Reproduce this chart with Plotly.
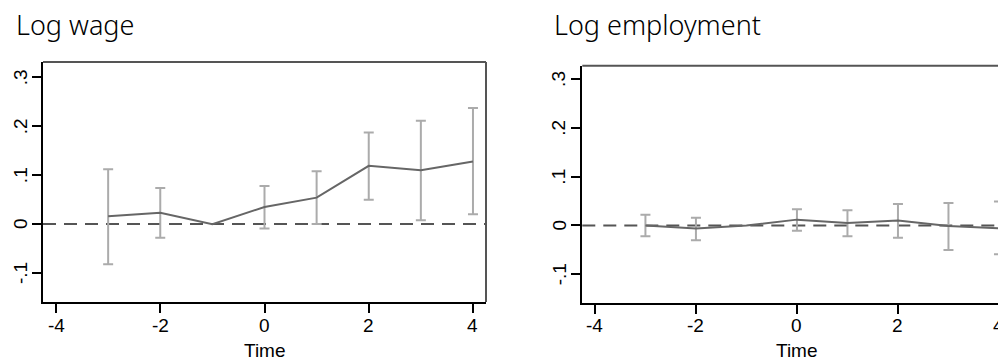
import plotly.graph_objects as go

time = [-3, -2, -1, 0, 1, 2, 3, 4]
wage_coef = [0.016, 0.023, 0.0, 0.035, 0.054, 0.119, 0.110, 0.128]
wage_hi = [0.112, 0.074, None, 0.078, 0.108, 0.187, 0.211, 0.237]
wage_lo = [-0.082, -0.028, None, -0.009, 0.000, 0.050, 0.008, 0.020]

emp_coef = [0.000, -0.006, 0.0, 0.012, 0.005, 0.010, -0.001, -0.006]
emp_hi = [0.022, 0.016, None, 0.033, 0.031, 0.044, 0.046, 0.049]
emp_lo = [-0.022, -0.030, None, -0.011, -0.022, -0.025, -0.050, -0.059]

x_ticks = [-4, -2, 0, 2, 4]
x_ticktext = ["-4", "-2", "0", "2", "4"]
y_ticks = [-0.1, 0, 0.1, 0.2, 0.3]
y_ticktext = ["-.1", "0", ".1", ".2", ".3"]
titles = ["Log wage", "Log employment"]
x_title = "Time"

W, H = 1020, 360

fig = go.Figure()


def add_panel(coef, hi, lo, xa, ya):
    xs = [t for t, h in zip(time, hi) if h is not None]
    cs = [c for c, h in zip(coef, hi) if h is not None]
    plus = [h - c for c, h in zip(coef, hi) if h is not None]
    minus = [c - l for c, l, h in zip(coef, lo, hi) if h is not None]
    fig.add_trace(go.Scatter(
        x=xs, y=cs, mode="markers", marker=dict(size=1, opacity=0),
        error_y=dict(type="data", array=plus, arrayminus=minus, symmetric=False,
                     color="#ababab", thickness=2, width=5),
        xaxis=xa, yaxis=ya, showlegend=False, hoverinfo="skip"))
    fig.add_trace(go.Scatter(
        x=time, y=coef, mode="lines", line=dict(color="#666666", width=2),
        xaxis=xa, yaxis=ya, showlegend=False))


add_panel(wage_coef, wage_hi, wage_lo, "x", "y")
add_panel(emp_coef, emp_hi, emp_lo, "x2", "y2")

tick_font = dict(family="Liberation Sans, Arial, sans-serif", size=19, color="black")
xtitle_font = dict(family="Liberation Sans, Arial, sans-serif", size=19, color="black")

panels = [
    dict(xd=[43 / W, 486 / W], yd=[1 - 302 / H, 1 - 62 / H], yr=[-0.159, 0.331], ylab=20),
    dict(xd=[582.3 / W, 1011.6 / W], yd=[1 - 302.7 / H, 1 - 65.7 / H], yr=[-0.158, 0.327], ylab=559),
]

for i, p in enumerate(panels):
    sfx = "" if i == 0 else "2"
    fig.layout["xaxis" + sfx] = dict(
        domain=p["xd"], range=[-4.25, 4.25], anchor="y" + sfx,
        tickvals=x_ticks, ticks="outside", ticklen=9, tickwidth=1.5,
        tickcolor="black", showticklabels=False,
        showline=True, linecolor="black", linewidth=2, showgrid=False, zeroline=False)
    fig.layout["yaxis" + sfx] = dict(
        domain=p["yd"], range=p["yr"], anchor="x" + sfx,
        tickvals=y_ticks, showticklabels=False,
        ticks="outside", ticklen=9, tickwidth=1.5, tickcolor="black",
        showline=True, linecolor="black", linewidth=2, showgrid=False, zeroline=False)
    xd = "x" + sfx + " domain"
    yd = "y" + sfx + " domain"
    fig.add_shape(type="line", xref=xd, yref="y" + sfx, x0=0, x1=1, y0=0, y1=0,
                  line=dict(color="#555555", width=2, dash="13px,8px"), layer="below")
    fig.add_shape(type="line", xref=xd, yref=yd, x0=0, x1=1, y0=1, y1=1,
                  line=dict(color="#555555", width=2))
    fig.add_shape(type="line", xref=xd, yref=yd, x0=1, x1=1, y0=0, y1=1,
                  line=dict(color="#555555", width=2))
    # tick labels
    for v, t in zip(x_ticks, x_ticktext):
        fig.add_annotation(text=t, xref="x" + sfx, yref="paper", x=v, y=1 - 325 / H,
                           xanchor="center", yanchor="middle", showarrow=False,
                           font=tick_font)
    for v, t in zip(y_ticks, y_ticktext):
        fig.add_annotation(text=t, xref="paper", yref="y" + sfx, x=p["ylab"] / W, y=v,
                           xanchor="center", yanchor="middle", showarrow=False,
                           textangle=-90, font=tick_font)
    fig.add_annotation(text=x_title, xref=xd, yref="paper", x=0.5, y=1 - 350 / H,
                       xanchor="center", yanchor="middle", showarrow=False, font=xtitle_font)

title_font = dict(family="Noto Sans, Open Sans, sans-serif", size=27, color="black", weight=300)
fig.add_annotation(text=titles[0], xref="paper", yref="paper", x=14 / W, y=1 - 25 / H,
                   xanchor="left", yanchor="middle", showarrow=False, font=title_font)
fig.add_annotation(text=titles[1], xref="paper", yref="paper", x=552 / W, y=1 - 25 / H,
                   xanchor="left", yanchor="middle", showarrow=False, font=title_font)

fig.update_layout(width=W, height=H, margin=dict(l=0, r=0, t=0, b=0),
                  plot_bgcolor="white", paper_bgcolor="white")

fig.write_html("out.html", config={"displayModeBar": False},
               post_script="document.body.style.margin='0';document.body.style.overflow='hidden';document.documentElement.style.overflow='hidden';")
